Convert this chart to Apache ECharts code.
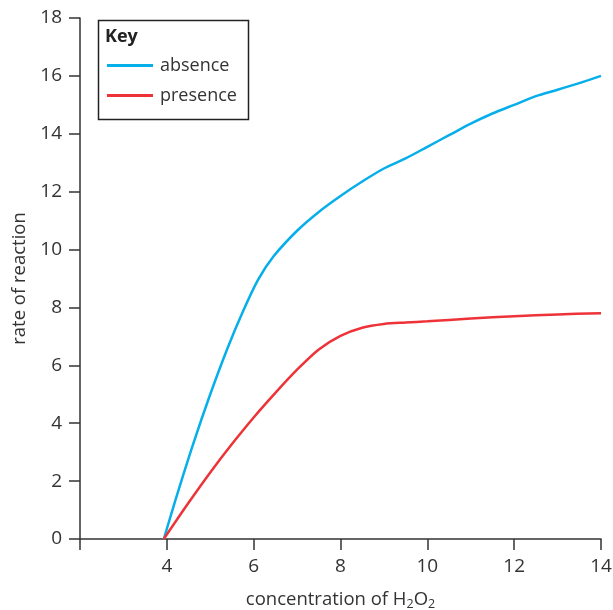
<!DOCTYPE html>
<html>
<head>
<meta charset="utf-8">
<script src="https://cdn.jsdelivr.net/npm/echarts@6/dist/echarts.min.js"></script>
<style>html,body{margin:0;padding:0;background:#fff}#c{width:613px;height:610px}</style>
</head>
<body>
<div id="c"></div>
<script>
const absenceX = [3.93, 4.2, 4.6, 5.0, 5.4, 5.75, 6.1, 6.45, 7.0, 7.5, 8.0, 8.5, 9.0, 9.5, 10.0, 10.5, 11.0, 11.5, 12.0, 12.5, 13.0, 13.5, 14.0];
const absenceY = [0, 1.35, 3.25, 5.0, 6.6, 7.85, 8.95, 9.75, 10.65, 11.3, 11.85, 12.35, 12.8, 13.15, 13.55, 13.95, 14.35, 14.7, 15.0, 15.3, 15.52, 15.75, 16.0];
const presenceX = [3.93, 4.5, 5.0, 5.5, 6.0, 6.5, 7.0, 7.5, 8.0, 8.5, 9.0, 9.5, 10.0, 11.0, 12.0, 13.0, 14.0];
const presenceY = [0, 1.25, 2.3, 3.28, 4.2, 5.05, 5.85, 6.55, 7.02, 7.3, 7.43, 7.48, 7.52, 7.62, 7.7, 7.76, 7.8];
const xTicks = [2, 4, 6, 8, 10, 12, 14];
const yTicks = [0, 2, 4, 6, 8, 10, 12, 14, 16, 18];
const seriesNames = ['absence', 'presence'];

const FONT = 'Open Sans';
const pair = (xs, ys) => xs.map((x, i) => [x, ys[i]]);

const chart = echarts.init(document.getElementById('c'));
chart.setOption({
  animation: false,
  textStyle: { fontFamily: FONT },
  grid: { left: 80, right: 12, top: 18, bottom: 71, outerBoundsMode: 'none', containLabel: false },
  xAxis: {
    type: 'value', min: xTicks[0], max: xTicks[xTicks.length - 1], interval: 2,
    axisLine: { lineStyle: { color: '#333', width: 1.5 } },
    axisTick: { inside: false, length: 11, lineStyle: { color: '#333', width: 1.5 } },
    axisLabel: { color: '#333', fontSize: 19, margin: 18, fontFamily: FONT,
      formatter: v => (v === xTicks[0] ? '' : String(v)) },
    splitLine: { show: false },
    name: '{a|concentration of H}{s|2}{a|O}{s|2}',
    nameLocation: 'middle', nameGap: 50,
    nameTextStyle: {
      rich: {
        a: { fontSize: 18.5, color: '#333', fontFamily: FONT },
        s: { fontSize: 12.5, color: '#333', fontFamily: FONT, verticalAlign: 'bottom', padding: [9, 0, 0, 0] }
      }
    }
  },
  yAxis: {
    type: 'value', min: yTicks[0], max: yTicks[yTicks.length - 1], interval: 2,
    axisLine: { show: true, lineStyle: { color: '#333', width: 1.5 } },
    axisTick: { show: true, length: 11, lineStyle: { color: '#333', width: 1.5 } },
    axisLabel: { color: '#333', fontSize: 19, margin: 18, fontFamily: FONT },
    splitLine: { show: false },
    name: 'rate of reaction', nameLocation: 'middle', nameGap: 50,
    nameTextStyle: { fontSize: 18.5, color: '#333', fontFamily: FONT }
  },
  legend: {
    orient: 'vertical', left: 102, top: 50,
    data: seriesNames,
    icon: 'rect', itemWidth: 46, itemHeight: 3, itemGap: 9,
    textStyle: { fontSize: 18, color: '#333', fontFamily: FONT, lineHeight: 21, padding: [0, 0, 0, 2] }
  },
  graphic: [
    { type: 'rect', left: 96, top: 18, shape: { width: 150, height: 99 },
      style: { fill: 'none', stroke: '#222', lineWidth: 1.5 } },
    { type: 'text', left: 105, top: 28,
      style: { text: 'Key', font: 'bold 18px "Open Sans"', fill: '#222' } }
  ],
  series: [
    { name: seriesNames[0], type: 'line', data: pair(absenceX, absenceY), smooth: 0.3,
      showSymbol: false, lineStyle: { color: '#06AEEA', width: 2.5 }, itemStyle: { color: '#06AEEA' } },
    { name: seriesNames[1], type: 'line', data: pair(presenceX, presenceY), smooth: 0.3,
      showSymbol: false, lineStyle: { color: '#EE3338', width: 2.5 }, itemStyle: { color: '#EE3338' } }
  ]
});
</script>
</body>
</html>
